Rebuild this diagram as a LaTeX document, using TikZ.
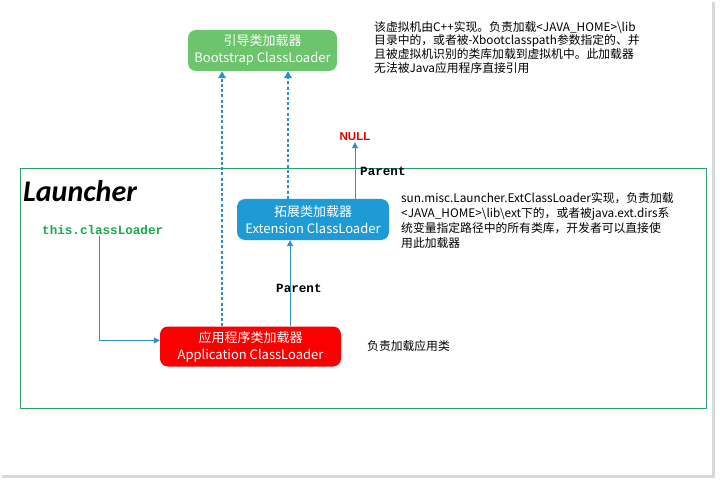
\documentclass[tikz,border=0pt]{standalone}
\usepackage{fontspec}
\setmainfont{Noto Sans CJK SC}
\newfontfamily\monofont{Liberation Mono}
\newfontfamily\calfont{Carlito}
\newfontfamily\arialfont{Liberation Sans}
\usetikzlibrary{arrows.meta,calc}
\definecolor{bootgreen}{RGB}{108,196,108}
\definecolor{extblue}{RGB}{30,155,215}
\definecolor{appred}{RGB}{250,0,0}
\definecolor{framegreen}{RGB}{46,158,106}
\definecolor{clgreen}{RGB}{24,168,80}
\definecolor{arrowblue}{RGB}{43,144,200}
\definecolor{nullred}{RGB}{224,0,0}
\tikzset{
  loader/.style={rounded corners=8pt, draw=none, text=white, align=center,
    font=\fontsize{13}{17}\selectfont, inner sep=0pt},
  desc/.style={anchor=north west, inner sep=0pt, align=left,
    font=\fontsize{11.8}{13.7}\selectfont},
  dotarrow/.style={draw=arrowblue, line width=2.6pt, dash pattern=on 3pt off 2.2pt,
    -{Triangle[length=7pt,width=7.5pt]}},
  solidarrow/.style={draw=arrowblue, line width=1pt, -{Triangle[length=6pt,width=6pt]}},
  parentlbl/.style={font=\monofont\bfseries\fontsize{12.6}{14}\selectfont, inner sep=0pt}
}
\begin{document}
\begin{tikzpicture}[x=1pt,y=-1pt]
\useasboundingbox (0,0) rectangle (720,481);
\fill[white] (0,0) rectangle (720,481);
% shadow border
\draw[gray!30, line width=3pt] (713,2) -- (713,476) -- (2,476);
% frame
\draw[framegreen, line width=1pt] (20,169) rectangle (706,408);
% nodes
\node[loader, fill=bootgreen, minimum width=149pt, minimum height=41pt] (boot) at (262.5,50.5)
  {引导类加载器\\Bootstrap ClassLoader};
\node[loader, fill=extblue, minimum width=152pt, minimum height=41pt] (ext) at (313,219.5)
  {拓展类加载器\\Extension ClassLoader};
\node[loader, fill=appred, minimum width=181pt, minimum height=40pt] (app) at (250.5,346.5)
  {应用程序类加载器\\Application ClassLoader};
\node[font=\arialfont\bfseries\fontsize{11.5}{13}\selectfont, text=nullred, inner sep=1pt] (null) at (355,137) {NULL};
\node[anchor=west, font=\calfont\bfseries\itshape\fontsize{30}{34}\selectfont, inner sep=0pt] (launcher) at (23,191) {Launcher};
\node[anchor=west, font=\monofont\bfseries\fontsize{12.6}{14}\selectfont, text=clgreen, inner sep=0pt] (cl) at (42,229.5) {this.classLoader};
\node[parentlbl, anchor=west] (p1) at (360,171) {Parent};
\node[parentlbl, anchor=west] (p2) at (276,288) {Parent};
% descriptions
\node[desc] (d1) at (374,21) {该虚拟机由C++实现。负责加载<JAVA\_HOME>\textbackslash lib\\目录中的，或者被-Xbootclasspath参数指定的、并\\且被虚拟机识别的类库加载到虚拟机中。此加载器\\无法被Java应用程序直接引用};
\node[desc, font=\fontsize{11.8}{15}\selectfont] (d2) at (401,192) {sun.misc.Launcher.ExtClassLoader实现，负责加载\\<JAVA\_HOME>\textbackslash lib\textbackslash ext下的，或者被java.ext.dirs系\\统变量指定路径中的所有类库，开发者可以直接使\\用此加载器};
\node[anchor=west, inner sep=0pt, font=\fontsize{11.8}{14}\selectfont] (d3) at (367,346) {负责加载应用类};
% connectors
\draw[dotarrow] ([xshift=-28.5pt]app.north) -- ([xshift=-28.5pt]app.north |- boot.south);
\draw[dotarrow] ([xshift=-25pt]ext.north) -- ([xshift=-25pt]ext.north |- boot.south);
\draw[solidarrow] ([xshift=39.5pt]app.north) -- ([xshift=39.5pt]app.north |- ext.south);
\draw[solidarrow] (null.south |- ext.north) -- (null.south);
\draw[solidarrow] ([xshift=57pt,yshift=-2pt]cl.south west) |- ([yshift=6pt]app.west);
\end{tikzpicture}
\end{document}
